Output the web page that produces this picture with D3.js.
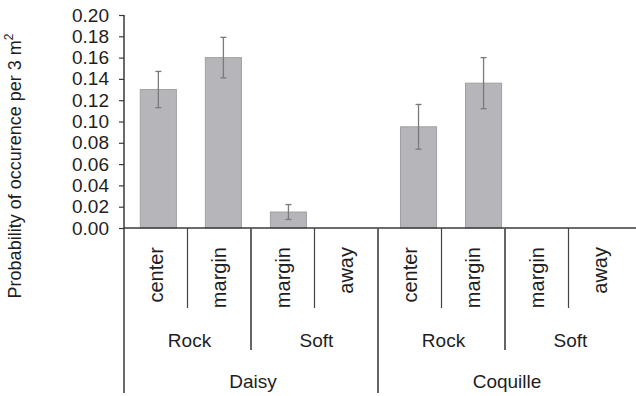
<!DOCTYPE html>
<html>
<head>
<meta charset="utf-8">
<script src="https://cdn.jsdelivr.net/npm/d3@7"></script>
<style>
  body { margin: 0; background: #fff; }
  svg { font-family: "Liberation Sans", Arial, sans-serif; }
</style>
</head>
<body>
<svg id="chart" width="636" height="396"></svg>
<script>
// data
var sites = ['Daisy', 'Daisy', 'Daisy', 'Daisy', 'Coquille', 'Coquille', 'Coquille', 'Coquille']
  , habitats = ['Rock', 'Rock', 'Soft', 'Soft', 'Rock', 'Rock', 'Soft', 'Soft']
  , positions = ['center', 'margin', 'margin', 'away', 'center', 'margin', 'margin', 'away']
  , values = [0.130, 0.160, 0.015, 0, 0.095, 0.136, 0, 0]
  , errors = [0.017, 0.019, 0.007, 0, 0.021, 0.024, 0, 0]
  , yTicks = [0, 0.02, 0.04, 0.06, 0.08, 0.10, 0.12, 0.14, 0.16, 0.18, 0.20]

var svg = d3.select('svg#chart')
  , ids = d3.range(values.length)
  , axisColor = '#3a3a3a'
  , textColor = '#1e1e1e'

var y = d3.scaleLinear().domain([0, 0.2]).range([228, 15])
// the label table and the bars sit on slightly different grids in the figure
var xTable = d3.scaleBand().domain(ids).range([124, 632])
var xBar = d3.scaleBand().domain(ids).range([126, 646]).paddingInner(0.445).paddingOuter(0.22)

// bars
svg.selectAll('rect.bar').data(ids.filter(function(i) { return values[i] > 0 }))
  .enter().append('rect').attr('class', 'bar')
  .attr('x', function(i) { return xBar(i) })
  .attr('width', xBar.bandwidth())
  .attr('y', function(i) { return y(values[i]) })
  .attr('height', function(i) { return y(0) - y(values[i]) })
  .attr('fill', '#b6b6ba')
  .attr('stroke', '#a0a0a4')
  .attr('stroke-width', 1)

// error bars
var withErr = ids.filter(function(i) { return errors[i] > 0 })
var err = svg.selectAll('g.err').data(withErr)
  .enter().append('g').attr('class', 'err')
  .attr('stroke', '#7a7a7a').attr('stroke-width', 1.3)
err.append('line')
  .attr('x1', function(i) { return xBar(i) + xBar.bandwidth() / 2 })
  .attr('x2', function(i) { return xBar(i) + xBar.bandwidth() / 2 })
  .attr('y1', function(i) { return y(values[i] + errors[i]) })
  .attr('y2', function(i) { return y(values[i] - errors[i]) })
;[1, -1].forEach(function(s) {
  err.append('line')
    .attr('x1', function(i) { return xBar(i) + xBar.bandwidth() / 2 - 3 })
    .attr('x2', function(i) { return xBar(i) + xBar.bandwidth() / 2 + 3 })
    .attr('y1', function(i) { return y(values[i] + s * errors[i]) })
    .attr('y2', function(i) { return y(values[i] + s * errors[i]) })
})

// y axis
var yAxis = d3.axisLeft(y).tickValues(yTicks).tickFormat(d3.format('.2f'))
  .tickSize(5).tickPadding(10)
var gy = svg.append('g').attr('transform', 'translate(' + xTable(0) + ',0)').call(yAxis)
gy.select('.domain').remove()
gy.selectAll('line').attr('stroke', axisColor).attr('stroke-width', 1.2)
gy.selectAll('text').attr('font-size', 19).attr('fill', textColor)
  .attr('font-family', '"Liberation Sans", Arial, sans-serif')

// axis lines
svg.append('line')
  .attr('x1', xTable(0)).attr('x2', 636)
  .attr('y1', y(0)).attr('y2', y(0))
  .attr('stroke', axisColor).attr('stroke-width', 1.5)
svg.append('line')
  .attr('x1', xTable(0)).attr('x2', xTable(0))
  .attr('y1', y(0.2)).attr('y2', 393)
  .attr('stroke', axisColor).attr('stroke-width', 1.5)

// separators in the label table: deeper when the grouping changes
var sepBottom = [308, 350, 393]
ids.slice(1).forEach(function(i) {
  var level = sites[i] !== sites[i - 1] ? 2 : habitats[i] !== habitats[i - 1] ? 1 : 0
  svg.append('line')
    .attr('x1', xTable(i)).attr('x2', xTable(i))
    .attr('y1', y(0)).attr('y2', sepBottom[level])
    .attr('stroke', level ? '#555' : '#444')
    .attr('stroke-width', level ? 1.8 : 1.2)
})

// position labels
svg.selectAll('text.pos').data(ids)
  .enter().append('text').attr('class', 'pos')
  .attr('transform', function(i) {
    return 'translate(' + (xTable(i) + xTable.bandwidth() / 2) + ',247) rotate(-90)'
  })
  .attr('text-anchor', 'end').attr('dy', '0.36em')
  .attr('font-size', 20).attr('fill', textColor)
  .text(function(i) { return positions[i] })

// group labels
var groupLabel = function(keyOf, baseline) {
  var groups = []
  ids.forEach(function(i) {
    var last = groups[groups.length - 1]
    if (last && last.key === keyOf(i)) last.end = i
    else groups.push({ key: keyOf(i), start: i, end: i, label: keyOf(i).split('|').pop() })
  })
  svg.selectAll(null).data(groups)
    .enter().append('text')
    .attr('x', function(g) { return (xTable(g.start) + xTable(g.end) + xTable.bandwidth()) / 2 + 2 })
    .attr('y', baseline)
    .attr('text-anchor', 'middle').attr('font-size', 19).attr('fill', textColor)
    .text(function(g) { return g.label })
}
groupLabel(function(i) { return sites[i] + '|' + habitats[i] }, 347)
groupLabel(function(i) { return sites[i] }, 388)

// y title
var title = svg.append('text')
  .attr('transform', 'translate(21,166) rotate(-90)')
  .attr('text-anchor', 'middle').attr('font-size', 18).attr('fill', textColor)
title.append('tspan').text('Probability of occurence per 3 m')
title.append('tspan').attr('font-size', 12).attr('dy', -8).text('2')
</script>
</body>
</html>
